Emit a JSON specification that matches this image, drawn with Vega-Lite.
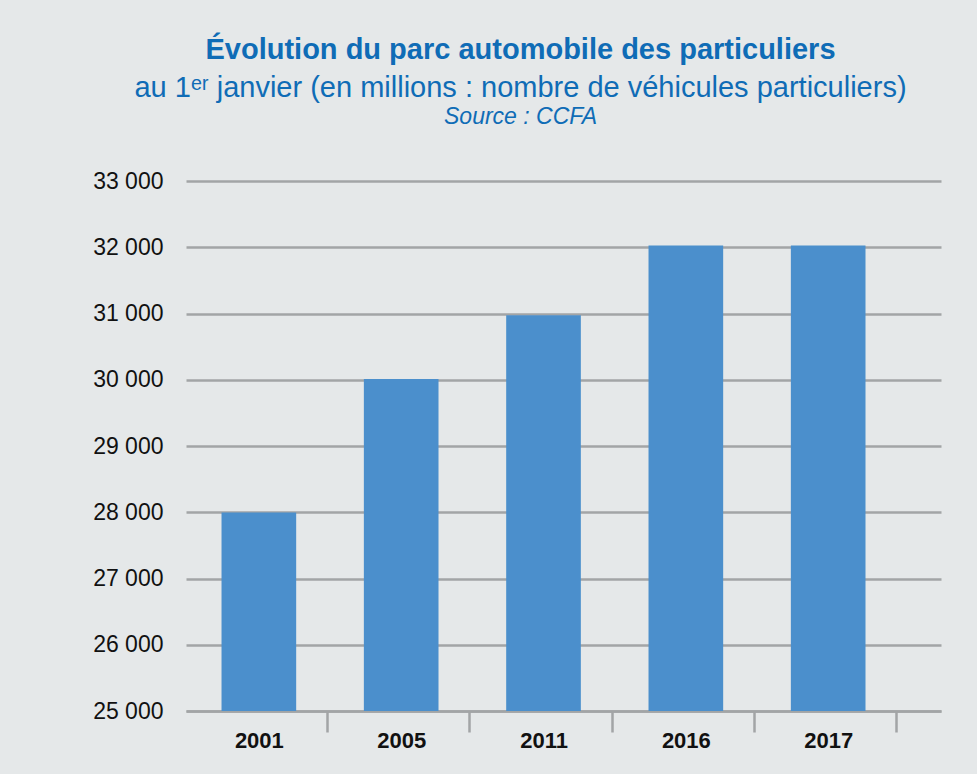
{
  "$schema": "https://vega.github.io/schema/vega-lite/v6.json",
  "autosize": {"type": "none"},
  "width": 755,
  "height": 530,
  "padding": {"left": 186, "top": 181, "right": 36, "bottom": 63},
  "background": "#e5e8e9",
  "title": {
    "text": "Évolution du parc automobile des particuliers",
    "subtitle": "au 1ᵉʳ janvier (en millions : nombre de véhicules particuliers)",
    "anchor": "middle",
    "dx": -43,
    "offset": 2,
    "font": "Liberation Sans",
    "fontSize": 29,
    "fontWeight": "bold",
    "color": "#0f6cb6",
    "subtitleFont": "Liberation Sans",
    "subtitleFontSize": 29,
    "subtitleColor": "#0f6cb6",
    "subtitlePadding": 9
  },
  "data": {
    "values": [
      {"annee": "2001", "parc": 27995},
      {"annee": "2005", "parc": 30010},
      {"annee": "2011", "parc": 30975},
      {"annee": "2016", "parc": 32025},
      {"annee": "2017", "parc": 32025}
    ]
  },
  "mark": {"type": "bar", "color": "#4b8fcc", "clip": true},
  "encoding": {
    "x": {
      "field": "annee",
      "type": "nominal",
      "sort": null,
      "scale": {"paddingInner": 0.4755, "paddingOuter": 0.39, "align": 0.32},
      "axis": {
        "title": null,
        "labelAngle": 0,
        "labelFont": "Liberation Sans",
        "labelFontSize": 22,
        "labelFontWeight": "bold",
        "labelColor": "#111111",
        "labelPadding": -2,
        "domainColor": "#a2a5a6",
        "domainWidth": 2.5,
        "tickColor": "#a2a5a6",
        "tickWidth": 2.5,
        "tickSize": 21,
        "tickOffset": 68,
        "labelOffset": -68,
        "grid": false
      }
    },
    "y": {
      "field": "parc",
      "type": "quantitative",
      "scale": {"domain": [25000, 33000], "zero": false, "nice": false},
      "axis": {
        "values": [25000, 26000, 27000, 28000, 29000, 30000, 31000, 32000, 33000],
        "labelExpr": "replace(format(datum.value, ','), ',', ' ')",
        "labelFont": "Liberation Sans",
        "labelFontSize": 23,
        "labelColor": "#111111",
        "labelPadding": 23,
        "domain": false,
        "ticks": false,
        "gridColor": "#a2a5a6",
        "gridWidth": 2.5,
        "gridOpacity": 1,
        "title": "Source : CCFA",
        "titleAngle": 0,
        "titleX": 334,
        "titleY": -58,
        "titleAlign": "center",
        "titleBaseline": "alphabetic",
        "titleFont": "Liberation Sans",
        "titleFontSize": 23,
        "titleFontStyle": "italic",
        "titleFontWeight": "normal",
        "titleColor": "#0f6cb6"
      }
    }
  },
  "config": {"view": {"stroke": null}}
}
